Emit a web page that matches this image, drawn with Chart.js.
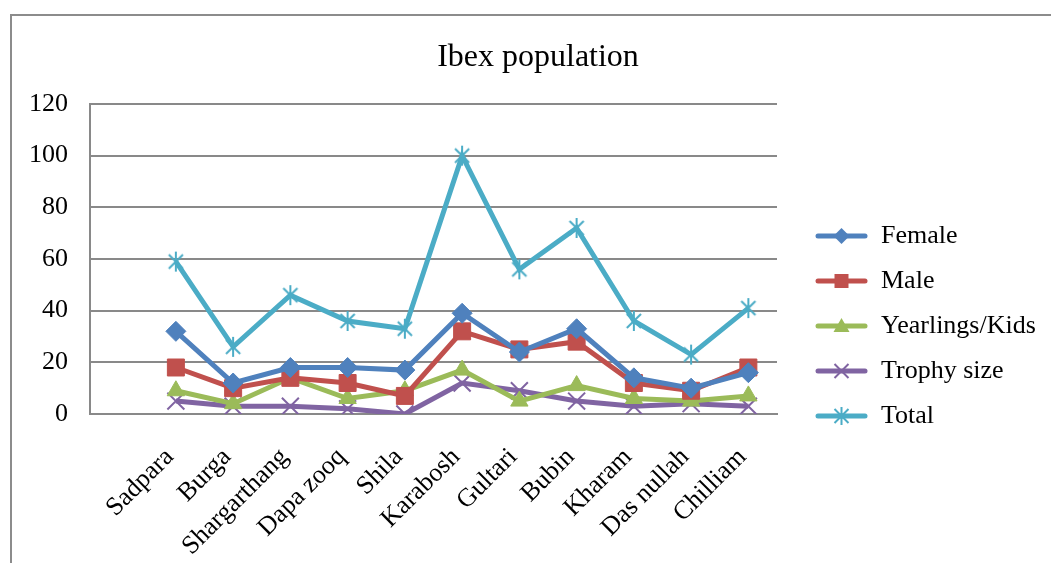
<!DOCTYPE html>
<html>
<head>
<meta charset="utf-8">
<title>Ibex population</title>
<script src="https://cdn.jsdelivr.net/npm/chart.js@4/dist/chart.umd.min.js"></script>
<style>
  html, body { margin: 0; padding: 0; background: #ffffff; }
  canvas { display: block; }
</style>
</head>
<body>
<canvas id="chart" width="1051" height="563"></canvas>
<script>
// Survey sites (the first slot is left empty on the category axis)
const sites = ['', 'Sadpara', 'Burga', 'Shargarthang', 'Dapa zooq', 'Shila', 'Karabosh',
  'Gultari', 'Bubin', 'Kharam', 'Das nullah', 'Chilliam'];

// Counts per site
const female    = [null, 32, 12, 18, 18, 17, 39, 24, 33, 14, 10, 16];
const male      = [null, 18, 10, 14, 12,  7, 32, 25, 28, 12,  9, 18];
const yearlings = [null,  9,  4, 14,  6,  9, 17,  5, 11,  6,  5,  7];
const trophy    = [null,  5,  3,  3,  2,  0, 12,  9,  5,  3,  4,  3];
const total     = [null, 59, 26, 46, 36, 33, 100, 56, 72, 36, 23, 41];

const seriesNames = ['Female', 'Male', 'Yearlings/Kids', 'Trophy size', 'Total'];
const yTicks = [0, 20, 40, 60, 80, 100, 120];

const COLORS = ['#4F81BD', '#C0504D', '#9BBB59', '#8064A2', '#4BACC6'];
const FONT = 'Liberation Serif';

// Asterisk marker: vertical stroke plus an X
function starMarker(size, color, lw) {
  const c = document.createElement('canvas');
  c.width = size; c.height = size;
  const g = c.getContext('2d');
  const h = size / 2, r = h - 1;
  g.strokeStyle = color; g.lineWidth = lw;
  g.beginPath();
  g.moveTo(h, h - r); g.lineTo(h, h + r);
  const d = r * Math.SQRT1_2;
  g.moveTo(h - d, h - d); g.lineTo(h + d, h + d);
  g.moveTo(h - d, h + d); g.lineTo(h + d, h - d);
  g.stroke();
  return c;
}

// Legend key: short line with the series marker in the middle
function legendKey(kind, color) {
  const W = 72, H = 26, x0 = 19, cx = (x0 + W) / 2, cy = H / 2;
  const c = document.createElement('canvas');
  c.width = W; c.height = H;
  const g = c.getContext('2d');
  g.strokeStyle = color; g.fillStyle = color;
  g.lineWidth = 5; g.lineCap = 'round';
  g.beginPath(); g.moveTo(x0 + 3, cy); g.lineTo(W - 3, cy); g.stroke();
  g.lineCap = 'butt';
  g.beginPath();
  if (kind === 'diamond') {
    g.moveTo(cx, cy - 8); g.lineTo(cx + 8, cy); g.lineTo(cx, cy + 8); g.lineTo(cx - 8, cy); g.closePath(); g.fill();
  } else if (kind === 'square') {
    g.rect(cx - 7, cy - 7, 14, 14); g.fill();
  } else if (kind === 'triangle') {
    g.moveTo(cx, cy - 8); g.lineTo(cx + 8, cy + 6); g.lineTo(cx - 8, cy + 6); g.closePath(); g.fill();
  } else if (kind === 'x') {
    g.lineWidth = 2;
    g.moveTo(cx - 7, cy - 7); g.lineTo(cx + 7, cy + 7);
    g.moveTo(cx - 7, cy + 7); g.lineTo(cx + 7, cy - 7); g.stroke();
  } else if (kind === 'star') {
    g.lineWidth = 2;
    g.moveTo(cx, cy - 9); g.lineTo(cx, cy + 9);
    g.moveTo(cx - 7, cy - 7); g.lineTo(cx + 7, cy + 7);
    g.moveTo(cx - 7, cy + 7); g.lineTo(cx + 7, cy - 7); g.stroke();
  }
  return c;
}

const legendKinds = ['diamond', 'square', 'triangle', 'x', 'star'];
const legendIcons = legendKinds.map((k, i) => legendKey(k, COLORS[i]));
const totalStar = starMarker(22, COLORS[4], 2);

// Thin grey frame around the whole chart
const chartFrame = {
  id: 'chartFrame',
  beforeDraw(chart) {
    const ctx = chart.ctx;
    ctx.save();
    ctx.strokeStyle = '#8c8c8c';
    ctx.lineWidth = 2;
    ctx.strokeRect(11, 15, 1200, 700);
    ctx.restore();
  }
};

// Place the title over the framed area and give the legend the full strip right of the plot
const boxPlacement = {
  id: 'boxPlacement',
  afterLayout(chart) {
    const t = chart.titleBlock;
    if (t) { t.left = 25; t.right = chart.width; t.width = t.right - t.left; }
    const lg = chart.legend;
    if (lg) {
      lg.left = chart.chartArea.right;
      lg.right = chart.width;
      lg.width = lg.right - lg.left;
      lg.top = 204;
      lg.bottom = chart.height;
      lg.height = lg.bottom - lg.top;
    }
  }
};

function series(i, data, style, radius, extra) {
  return Object.assign({
    label: seriesNames[i],
    data: data,
    borderColor: COLORS[i],
    backgroundColor: COLORS[i],
    borderWidth: 5,
    pointStyle: style,
    pointRadius: radius,
    pointHoverRadius: radius,
    pointBorderWidth: 1,
    pointBorderColor: COLORS[i],
    pointBackgroundColor: COLORS[i],
    tension: 0,
    fill: false
  }, extra || {});
}

new Chart(document.getElementById('chart'), {
  type: 'line',
  data: {
    labels: sites,
    datasets: [
      series(0, female, 'rectRot', 10),
      series(1, male, 'rect', 12),
      series(2, yearlings, 'triangle', 10),
      series(3, trophy, 'crossRot', 12, { pointBorderWidth: 2 }),
      series(4, total, totalStar, 11)
    ]
  },
  options: {
    responsive: false,
    animation: false,
    events: [],
    layout: { padding: { left: 10, top: 15, right: 74, bottom: 0 } },
    plugins: {
      tooltip: { enabled: false },
      title: {
        display: true,
        text: 'Ibex population',
        color: '#000000',
        font: { family: FONT, size: 32, weight: 'normal', lineHeight: 1.2 },
        padding: { top: 23, bottom: 27.6 }
      },
      legend: {
        position: 'right',
        align: 'start',
        maxWidth: 200,
        labels: {
          usePointStyle: true,
          pointStyleWidth: 72,
          boxHeight: 26,
          padding: 19,
          color: '#000000',
          font: { family: FONT, size: 26, lineHeight: 1.2 },
          generateLabels(chart) {
            return chart.data.datasets.map((ds, i) => ({
              text: ds.label,
              pointStyle: legendIcons[i],
              datasetIndex: i,
              hidden: false,
              fillStyle: ds.borderColor,
              strokeStyle: ds.borderColor,
              lineWidth: 0,
              fontColor: '#000000'
            }));
          }
        }
      }
    },
    scales: {
      x: {
        type: 'category',
        offset: true,
        grid: { display: false, drawTicks: false },
        border: { display: true, color: '#898989', width: 2 },
        ticks: {
          autoSkip: false,
          minRotation: 45,
          maxRotation: 45,
          padding: 28,
          labelOffset: -6,
          color: '#000000',
          font: { family: FONT, size: 26 }
        },
        afterFit(scale) { scale.height = 149; }
      },
      y: {
        min: 0,
        max: 120,
        afterBuildTicks(scale) { scale.ticks = yTicks.map(v => ({ value: v })); },
        grid: { color: '#898989', lineWidth: 2, drawTicks: false },
        border: { display: true, color: '#898989', width: 2 },
        ticks: {
          padding: 22,
          color: '#000000',
          font: { family: FONT, size: 26 }
        },
        afterFit(scale) { scale.width = 80; }
      }
    }
  },
  plugins: [chartFrame, boxPlacement]
});
</script>
</body>
</html>
